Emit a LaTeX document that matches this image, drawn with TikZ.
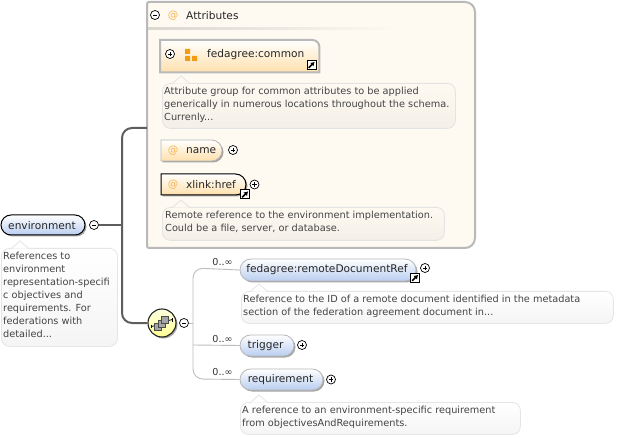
\documentclass[tikz,border=0pt]{standalone}
\usepackage{fontspec}
\setmainfont{DejaVu Sans}
\usetikzlibrary{shapes.misc,shadows,arrows.meta}
\definecolor{attrfill}{HTML}{FEFAF2}
\definecolor{attrborder}{HTML}{B9B9B9}
\definecolor{spinecol}{HTML}{5E5E5E}
\definecolor{thincol}{HTML}{BDBDBD}
\definecolor{blueend}{HTML}{B9CEF0}
\definecolor{orangeend}{HTML}{FFE0AC}
\definecolor{atcol}{HTML}{F6B44E}
\definecolor{iconcol}{HTML}{F39C12}
\definecolor{doctext}{HTML}{444444}
\tikzset{
  lbl/.style={font=\fontsize{10.6}{12}\selectfont,text=black!85,inner sep=0pt},
  atsign/.style={font=\fontsize{10.5}{12}\selectfont,text=atcol,inner sep=0pt},
  doctxt/.style={font=\fontsize{9.75}{13}\selectfont,text=doctext,inner sep=0pt,anchor=north west,align=left},
  occ/.style={font=\fontsize{9.6}{12}\selectfont,text=black!80,inner sep=0pt},
  pshadow/.style={drop shadow={shadow xshift=1.5pt,shadow yshift=-1.5pt,fill=black!50,opacity=.7}},
  elem/.style={rounded rectangle,rounded rectangle arc length=180,inner sep=0pt,minimum height=21pt,
    top color=white,bottom color=blueend,draw=black!28,line width=.8pt,pshadow},
  attr/.style={elem,rounded rectangle west arc=none,top color=white,bottom color=orangeend},
  toggle/.style={circle,draw=black,line width=.7pt,fill=white,minimum size=9pt,inner sep=0pt},
  docbox/.style={rectangle,rounded corners=8pt,anchor=north west,draw=black!10,line width=.8pt,inner sep=0pt},
  docwhite/.style={docbox,top color=white,bottom color=black!4},
  docbeige/.style={docbox,draw=black!11,top color=attrfill,bottom color=black!4!attrfill},
  spine/.style={draw=spinecol,line width=2pt,rounded corners=10pt},
  railline/.style={draw=thincol,line width=.9pt,rounded corners=10pt},
  linkbox/.style={rectangle,draw=black,fill=white,line width=1pt,minimum size=9pt,inner sep=0pt},
}
% toggle: name, x, y, sign (0 minus, 1 plus)
\newcommand{\tgl}[4]{%
  \node[toggle] (#1) at (#2,#3) {};
  \draw[line width=.7pt,black] (#2-2.2,#3) -- (#2+2.2,#3);
  \ifnum#4=1 \draw[line width=.7pt,black] (#2,#3-2.2) -- (#2,#3+2.2);\fi}
% link icon: name, x, y
\newcommand{\lnk}[3]{%
  \node[linkbox] (#1) at (#2,#3) {};
  \draw[line width=1.5pt,black,-{Latex[length=4pt,width=5pt]}] (#2-2.8,#3+2.8) -- (#2+3.2,#3-3.2);}
% pointer over a doc box: x, top y, colour, border
\newcommand{\ptr}[4]{%
  \fill[#3] (#1-8,#2+.6) -- (#1,#2-7) -- (#1+8,#2+.6) -- cycle;
  \draw[#4,line width=.8pt] (#1-8,#2) -- (#1,#2-7) -- (#1+8,#2);}
\begin{document}
\begin{tikzpicture}[x=1pt,y=-1pt]
\useasboundingbox (0,0) rectangle (637,438);
\fill[white] (0,0) rectangle (637,438);

% attributes panel
\node[rectangle,inner sep=0pt,minimum width=328pt,minimum height=246pt,anchor=north west] (attrbox) at (147,2) {};
\draw[attrborder,fill=attrfill,line width=2pt]
  [rounded corners=2pt] (147,248) -- (147,2) -- (340,2)
  [rounded corners=10pt] -- (475,2) -- (475,248)
  [rounded corners=2pt] -- cycle;
\shade[left color=black!14!attrfill,right color=attrfill] (148,28) rectangle (400,30);

% connectors
\coordinate (attrjoin) at (147,128);
\coordinate (elbowT) at (122,128);
\coordinate (elbowB) at (122,323);
\coordinate (spinejoin) at (122,225);

% elements on the left
\node[elem,draw=black,line width=1pt,minimum width=84pt,minimum height=20pt] (env) at (43,225) {};
\node[lbl] (envT) at (42,226) {environment};
\tgl{envminus}{94}{225}{0}

% sequence compositor
\node[circle,minimum size=28pt,inner sep=0pt,draw=black!85,line width=1.1pt,top color=yellow!12!white,bottom color=yellow!42!white,pshadow] (seq) at (162,323) {};
\tgl{seqminus}{184}{323}{0}
\draw[spine] (attrjoin) -- (elbowT) -- (elbowB) -- (seq);
\draw[draw=spinecol,line width=2pt] (envminus) -- (spinejoin);
\draw[black!75,line width=1pt] (152,326.5) -- (172,319.5);
\draw[black,line width=1pt] (151.5,324.5) -- (151.5,328);
\draw[black,line width=1pt] (172.5,318) -- (172.5,321.5);
\foreach \sx/\sy in {158/327,161.5/323.5,165/320}
  \draw[black!70,fill=black!35,line width=.8pt] (\sx-3.5,\sy-3.5) rectangle (\sx+3.5,\sy+3.5);

% header of the panel
\tgl{attrminus}{155}{15}{0}
\node[atsign] (attrAt) at (173,16) {@};
\node[lbl,anchor=west] (attrT) at (186,16) {Attributes};

% attribute group
\node[rectangle,inner sep=0pt,minimum width=159pt,minimum height=32pt,anchor=north west] (common) at (160,40) {};
\draw[attrborder,line width=2pt,top color=white,bottom color=orangeend]
  (common.south west) -- (common.north west) [rounded corners=7pt] -- (common.north east) [sharp corners] -- (common.south east) -- cycle;
\tgl{commonplus}{170}{54}{1}
\fill[iconcol] (185,49) rectangle (190,54) (185,56) rectangle (190,61) (192,56) rectangle (197,61);
\node[lbl,anchor=west] (commonT) at (207,55) {fedagree:common};
\lnk{commonlink}{311.5}{65}
\node[docbeige,minimum width=293pt,minimum height=45pt] (commondoc) at (162,83) {};
\ptr{181}{83}{attrfill}{black!11}
\node[doctxt] (commondocT) at (164,87) {Attribute group for common attributes to be applied\\generically in numerous locations throughout the schema.\\Currenly...};

% name attribute
\node[attr,minimum width=61pt] (name) at (191.5,150.5) {};
\node[atsign] (nameAt) at (173,151) {@};
\node[lbl,anchor=west] (nameT) at (186,151) {name};
\tgl{nameplus}{233}{150}{1}

% xlink:href attribute
\node[attr,draw=black,line width=1pt,minimum width=85pt] (href) at (203.5,184.5) {};
\node[atsign] (hrefAt) at (173,185) {@};
\node[lbl,anchor=west] (hrefT) at (186,185) {xlink:href};
\lnk{hreflink}{245}{194.5}
\tgl{hrefplus}{254.5}{184.5}{1}
\node[docbeige,minimum width=282pt,minimum height=33pt] (hrefdoc) at (162,207) {};
\ptr{181}{207}{attrfill}{black!11}
\node[doctxt] (hrefdocT) at (165,211) {Remote reference to the environment implementation.\\Could be a file, server, or database.};

% environment documentation
\node[docwhite,minimum width=116pt,minimum height=98pt] (envdoc) at (1,248) {};
\ptr{20}{248}{white}{black!10}
\node[doctxt] (envdocT) at (3,252) {References to\\environment\\representation-specifi\\c objectives and\\requirements. For\\federations with\\detailed...};

% children
\node[elem,minimum width=176pt,minimum height=22pt] (remote) at (328,270) {};
\node[lbl] (remoteT) at (327,269.5) {fedagree:remoteDocumentRef};
\lnk{remotelink}{415}{278}
\tgl{remoteplus}{425}{268}{1}
\node[docwhite,minimum width=372pt,minimum height=32pt] (remotedoc) at (241,291) {};
\ptr{259}{291}{white}{black!10}
\node[doctxt] (remotedocT) at (243,295) {Reference to the ID of a remote document identified in the metadata\\section of the federation agreement document in...};

\node[elem,minimum width=54pt] (trigger) at (267,345.5) {};
\node[lbl] (triggerT) at (265.5,346) {trigger};
\tgl{triggerplus}{302}{345}{1}

\node[elem,minimum width=83pt] (requirement) at (281.5,379.5) {};
\node[lbl] (requirementT) at (280.5,380) {requirement};
\tgl{requirementplus}{331}{379.5}{1}
\node[docwhite,minimum width=280pt,minimum height=32pt] (reqdoc) at (240,402) {};
\ptr{259}{402}{white}{black!10}
\node[doctxt] (reqdocT) at (242,406) {A reference to an environment-specific requirement\\from objectivesAndRequirements.};

% choice bracket
\coordinate (railT) at (193,268);
\coordinate (railB) at (193,379);
\coordinate (railM) at (193,345);
\coordinate (railS) at (193,323);
\draw[railline] (remote.west) -- (railT) -- (railB) -- (requirement.west);
\draw[thincol,line width=.9pt] (railM) -- (trigger.west);
\draw[thincol,line width=.9pt] (seqminus) -- (railS);

\node[occ] (occ1) at (222.5,262) {0..∞};
\node[occ] (occ2) at (222.5,339) {0..∞};
\node[occ] (occ3) at (222.5,372) {0..∞};
\end{tikzpicture}
\end{document}
